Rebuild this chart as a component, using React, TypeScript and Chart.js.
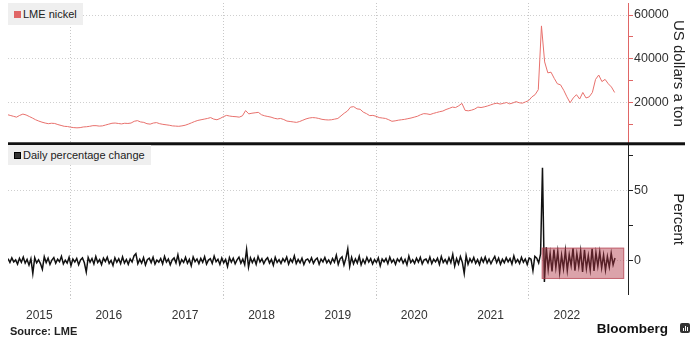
import React, { useEffect, useRef } from 'react';
import { Chart, registerables } from 'chart.js';

Chart.register(...registerables);

// ---- axis range (decimal years) ----
const xMin = 2015.18;
const xMax = 2023.3;
const xLabelYears = [2015, 2016, 2017, 2018, 2019, 2020, 2021, 2022];
const xGridYears = [2016, 2018, 2020, 2022];

// ---- LME nickel price, US$/t, twice a month from 1 Mar 2015 ----
const priceStart = 2015 + 2 / 12;
const priceStep = 1 / 24;
const priceValues = [
  // 2015 Mar-Dec
  14400, 14000, 13600, 13200, 14000, 14600, 14200, 13500, 12800, 12000,
  11400, 10900, 10500, 10200, 10400, 10300, 9800, 9400, 9000, 8900,
  // 2016
  8600, 8400, 8300, 8400, 8700, 8800, 9000, 9300, 9300, 9100, 9200, 9600,
  10000, 10400, 10500, 10300, 10100, 10400, 10300, 10500, 11300, 11600, 11000, 10800,
  // 2017
  10200, 10000, 10500, 10700, 10200, 9900, 9700, 9500, 9200, 9100, 9000, 9200,
  9500, 10000, 10600, 11200, 11700, 12000, 12300, 12600, 13000, 12300, 12000, 12600,
  // 2018
  13400, 14000, 13700, 13500, 13400, 13200, 13800, 16200, 14700, 15000, 15200, 15400,
  14300, 13800, 13500, 13200, 12700, 12400, 12600, 12100, 11400, 11200, 11000, 10800,
  // 2019
  11200, 11800, 12400, 12800, 13000, 12900, 12600, 12200, 12000, 11900, 12000, 12300,
  12600, 13800, 15000, 16000, 17800, 18000, 17000, 16800, 15500, 14800, 13900, 14000,
  // 2020
  13600, 13000, 12800, 12600, 12000, 11300, 11500, 11800, 12000, 12200, 12500, 12800,
  13200, 13600, 14300, 14800, 14700, 14400, 14900, 15300, 15700, 16000, 16700, 17200,
  // 2021
  17800, 17600, 18400, 19500, 16300, 16100, 16400, 16900, 17800, 17600, 17900, 18300,
  18800, 19300, 19600, 19200, 19500, 19900, 19300, 19700, 20300, 19800, 19600, 20200,
  // 2022
  20800, 22500, 23500, 25800, 55000, 38500, 33500, 33800, 31000, 28500, 28000, 25500,
  22500, 19800, 22000, 23500, 21500, 24500, 22000, 22500, 24500, 30500, 32500, 29500,
  // 2023 Jan-Feb
  30500, 28500, 27000, 24500,
];

// ---- daily percentage change (sampled) ----
const changeStart = 2015.18;
const changeStep = 0.025;
const changeValues = [
  1.5, -1.2, 2.1, -0.8, 0.6, -2.4, 1.8, -1.1, 2.6, -1.7, 0.9, -3.1, 1.4, -9.0, 2.2, -1.5, 0.7, -2.0, -6.0, 2.8,
  -1.3, 1.9, -2.6, 0.5, 2.3, -1.8, 1.1, -0.7, 3.2, -2.2, 0.4, -1.6, 2.5, -3.4, 1.2, -0.9, 1.7, -2.8, 0.6, 2.0,
  -1.4, -8.0, 2.4, -1.0, 1.6, -2.3, 3.0, -1.2, 0.8, -2.7, 1.9, -0.5, 2.6, -1.9, 0.3, -3.3, 2.1, -1.1, 1.4, -2.0,
  2.8, -1.6, 0.9, -2.5, 1.3, -0.8, 3.4, 5.0, -2.1, 1.0, -1.7, 2.2, -3.0, 0.7, 1.8, -1.3, 2.5, -2.4, 0.5, -1.0,
  1.6, -2.2, 3.1, -0.9, 1.2, -2.9, 0.6, 2.0, -1.5, 4.2, -2.6, 0.8, -1.2, 2.4, -1.8, 1.0, -3.5, 2.7, -0.6, 1.3,
  -2.0, 1.7, -1.1, 2.9, -2.4, 0.5, 1.5, -1.9, 3.3, -0.7, 1.1, -2.6, 2.0, -1.4, 0.9, -4.1, 2.3, -1.0, 1.8, -2.2,
  0.6, 2.5, -1.7, 1.2, -2.8, 8.0, -4.5, 2.1, -1.3, 1.6, -2.5, 3.0, -0.9, 1.4, -2.1, 0.7, 2.2, -1.6, 1.0, -3.2,
  2.4, -1.2, 0.8, -1.9, 1.5, -0.6, 2.7, -2.3, 1.1, -1.0, 3.5, -2.0, 0.9, -1.5, 1.8, -2.7, 0.5, 1.3, -1.1, 2.1,
  -1.8, 0.7, 1.9, -2.4, 1.2, -0.8, 2.3, -1.4, 0.6, -2.1, 1.6, -1.0, 3.9, -2.6, 1.4, 2.8, -3.0, 1.7, 8.5, -4.0,
  2.5, -2.2, 1.3, -1.6, 3.2, -2.8, 1.0, -1.9, 2.4, -0.9, 1.5, -2.3, 0.8, -1.2, 2.0, -3.6, 1.2, -0.7, 1.6, -2.0,
  2.6, -1.1, 0.9, -2.5, 1.4, -0.6, 2.1, -1.7, 1.0, -2.9, 3.3, -1.3, 0.7, -1.8, 1.9, -1.0, 2.4, -2.2, 0.6, 1.2,
  -1.5, 2.7, -2.0, 1.1, -0.8, 1.8, -2.6, 3.0, -1.2, 0.9, -1.9, 2.2, -1.4, 4.5, -3.8, 1.6, -2.3, 2.9, -1.0, -9.0,
  3.6, -2.4, 1.5, -1.1, 2.3, -1.8, 0.8, -2.7, 1.9, -0.9, 2.6, -1.6, 1.2, -2.1, 0.7, 3.1, -1.3, 1.8, -2.5, 1.0,
  -1.4, 2.2, -0.8, 1.6, -2.3, 3.4, -1.2, 0.9, -1.9, 2.5, -1.0, 1.3, -2.6, 2.0, 1.1, -7.0, 3.2, 1.9, -1.5, 4.8,
  66.0, -15.0, 9.5, -6.0, 5.2, -7.5, 8.0, -4.8, 6.5, -8.2, 3.9, -5.6, 7.2, -6.8, 4.4, -3.5, 8.8, -7.0, 5.0, -4.2,
  6.9, -8.0, 7.8, -5.5, 3.6, -6.4, 8.4, -7.2, 5.8, -3.9, 6.2, -5.0, 4.1, -6.6, 3.0, -4.4, 5.3, -2.8, 2.0,
];

// ---- y axes ----
const priceMin = 1000;
const priceMax = 65500;
const priceTicks = [10000, 20000, 30000, 40000, 50000, 60000];
const priceLabelTicks = [20000, 40000, 60000];
const changeMin = -24;
const changeMax = 83;
const changeTicks = [0, 25, 50, 75];
const changeLabelTicks = [0, 50];

// ---- highlighted period (post-squeeze volatility) ----
const highlightX = [2022.17, 2023.25];
const highlightY = [-12.9, 9.3];

const FONT = "'Liberation Sans', Arial, Helvetica, sans-serif";
const PRICE_COLOR = '#e8716d';
const PRICE_AXIS = '#e06666';

type XTick = { value: number; label: string; grid: boolean };
const xTickItems: XTick[] = [
  ...xLabelYears.map((y) => ({
    value: (Math.max(y, xMin) + Math.min(y + 1, xMax)) / 2,
    label: String(y),
    grid: false,
  })),
  ...xGridYears.map((y) => ({ value: y, label: '', grid: true })),
].sort((a, b) => a.value - b.value);

const overlayPlugin = {
  id: 'overlayPlugin',
  afterDatasetsDraw(chart: any) {
    const { ctx, scales } = chart;
    const xs = scales.x;
    const ys = scales.yChange;
    const l = xs.getPixelForValue(highlightX[0]);
    const r = xs.getPixelForValue(highlightX[1]);
    const t = ys.getPixelForValue(highlightY[1]);
    const b = ys.getPixelForValue(highlightY[0]);
    ctx.save();
    ctx.fillStyle = 'rgba(175, 50, 66, 0.45)';
    ctx.fillRect(l, t, r - l, b - t);
    ctx.strokeStyle = 'rgba(175, 50, 66, 0.55)';
    ctx.lineWidth = 1;
    ctx.strokeRect(l + 0.5, t + 0.5, r - l - 1, b - t - 1);
    ctx.restore();
  },
  afterDraw(chart: any) {
    const { ctx, chartArea, scales } = chart;
    const yb = scales.yPrice.bottom;
    ctx.save();
    ctx.fillStyle = '#111';
    ctx.fillRect(chartArea.left, yb - 1.5, chart.width - 15 - chartArea.left, 3);
    ctx.restore();
  },
};

const fitRightAxis = (s: any) => {
  s.width = 62;
  s.paddingTop = 0;
  s.paddingBottom = 0;
};

export default function App() {
  const ref = useRef<HTMLCanvasElement | null>(null);

  useEffect(() => {
    if (!ref.current) return;
    const priceData = priceValues.map((v, i) => ({ x: priceStart + i * priceStep, y: v }));
    const changeData = changeValues.map((v, i) => ({ x: changeStart + i * changeStep, y: v }));

    const chart = new Chart(ref.current, {
      type: 'line',
      data: {
        datasets: [
          {
            label: 'LME nickel',
            data: priceData,
            yAxisID: 'yPrice',
            borderColor: PRICE_COLOR,
            borderWidth: 1,
            pointRadius: 0,
            tension: 0,
          },
          {
            label: 'Daily percentage change',
            data: changeData,
            yAxisID: 'yChange',
            borderColor: '#111',
            borderWidth: 1.5,
            pointRadius: 0,
            tension: 0,
          },
        ],
      },
      options: {
        animation: false,
        responsive: false,
        devicePixelRatio: 1,
        layout: { padding: { left: 8, top: 3, right: 10, bottom: 0 } },
        plugins: { legend: { display: false }, tooltip: { enabled: false } },
        scales: {
          x: {
            type: 'linear',
            min: xMin,
            max: xMax,
            afterBuildTicks: (s: any) => {
              s.ticks = xTickItems.map((t) => ({ value: t.value }));
            },
            ticks: {
              autoSkip: false,
              maxRotation: 0,
              padding: 9,
              color: '#333',
              font: { family: FONT, size: 12 },
              callback: (_v: any, i: number) => xTickItems[i]?.label ?? '',
            },
            grid: {
              color: (c: any) => (xTickItems[c.index]?.grid ? '#c8c8c8' : 'rgba(0,0,0,0)'),
              tickLength: 5,
              tickBorderDash: [1, 2],
            },
            border: { display: false, dash: [1, 2] },
          },
          yPrice: {
            type: 'linear',
            position: 'right',
            stack: 'panels',
            stackWeight: 140,
            min: priceMin,
            max: priceMax,
            afterBuildTicks: (s: any) => {
              s.ticks = priceTicks.map((v) => ({ value: v }));
            },
            afterFit: fitRightAxis,
            ticks: {
              autoSkip: false,
              padding: 1,
              color: '#333',
              font: { family: FONT, size: 12.5 },
              callback: (v: any) => (priceLabelTicks.includes(Number(v)) ? String(v) : ''),
            },
            grid: {
              color: (c: any) =>
                priceLabelTicks.includes(c.tick?.value) ? '#cfcfcf' : 'rgba(0,0,0,0)',
              tickColor: PRICE_AXIS,
              tickLength: 5,
            },
            border: { color: PRICE_AXIS, width: 1, dash: [1, 2] },
            title: {
              display: true,
              text: 'US dollars a ton',
              color: '#222',
              font: { family: FONT, size: 15 },
              padding: { top: 3, bottom: 0 },
            },
          },
          yChange: {
            type: 'linear',
            position: 'right',
            stack: 'panels',
            stackWeight: 150,
            min: changeMin,
            max: changeMax,
            afterBuildTicks: (s: any) => {
              s.ticks = changeTicks.map((v) => ({ value: v }));
            },
            afterFit: fitRightAxis,
            ticks: {
              autoSkip: false,
              padding: 1,
              color: '#333',
              font: { family: FONT, size: 12.5 },
              callback: (v: any) => (changeLabelTicks.includes(Number(v)) ? String(v) : ''),
            },
            grid: {
              color: (c: any) =>
                changeLabelTicks.includes(c.tick?.value) ? '#cfcfcf' : 'rgba(0,0,0,0)',
              tickColor: '#222',
              tickLength: 5,
            },
            border: { color: '#222', width: 1, dash: [1, 2] },
            title: {
              display: true,
              text: 'Percent',
              color: '#222',
              font: { family: FONT, size: 15 },
              padding: { top: 3, bottom: 0 },
            },
          },
        },
      } as any,
      plugins: [overlayPlugin],
    });
    return () => chart.destroy();
  }, []);

  const legendBox: React.CSSProperties = {
    position: 'absolute',
    left: 8,
    background: '#efefef',
    fontFamily: FONT,
    fontSize: 11,
    color: '#222',
    display: 'flex',
    alignItems: 'center',
    boxSizing: 'border-box',
    paddingLeft: 6,
    paddingRight: 6,
  };
  const swatch = (bg: string, border: string): React.CSSProperties => ({
    width: 7,
    height: 7,
    background: bg,
    border: `1px solid ${border}`,
    boxSizing: 'border-box',
    marginRight: 2,
  });

  return (
    <div
      style={{
        position: 'fixed',
        left: 0,
        top: 0,
        width: 700,
        height: 353,
        background: '#fff',
        overflow: 'hidden',
      }}
    >
      <canvas ref={ref} width={700} height={332} style={{ display: 'block' }} />
      <div style={{ ...legendBox, top: 3, height: 22 }}>
        <div style={swatch('#e06666', '#e06666')} />
        <span>LME nickel</span>
      </div>
      <div style={{ ...legendBox, top: 145, height: 20 }}>
        <div style={swatch('#333', '#000')} />
        <span>Daily percentage change</span>
      </div>
      <div
        style={{
          position: 'absolute',
          left: 10,
          top: 325,
          fontFamily: FONT,
          fontSize: 11,
          fontWeight: 'bold',
          color: '#222',
        }}
      >
        Source: LME
      </div>
      <div
        style={{
          position: 'absolute',
          right: 32,
          top: 321,
          fontFamily: FONT,
          fontSize: 13.5,
          color: '#111',
          fontWeight: 'bold',
        }}
      >
        Bloomberg
      </div>
      <div
        style={{
          position: 'absolute',
          left: 680,
          top: 323,
          width: 10,
          height: 10,
          background: '#333',
          borderRadius: 2,
          display: 'flex',
          alignItems: 'flex-end',
          justifyContent: 'center',
          gap: 1,
          paddingBottom: 2,
          boxSizing: 'border-box',
        }}
      >
        <div style={{ width: 1, height: 3, background: '#fff' }} />
        <div style={{ width: 1, height: 5, background: '#fff' }} />
        <div style={{ width: 1, height: 4, background: '#fff' }} />
      </div>
    </div>
  );
}
